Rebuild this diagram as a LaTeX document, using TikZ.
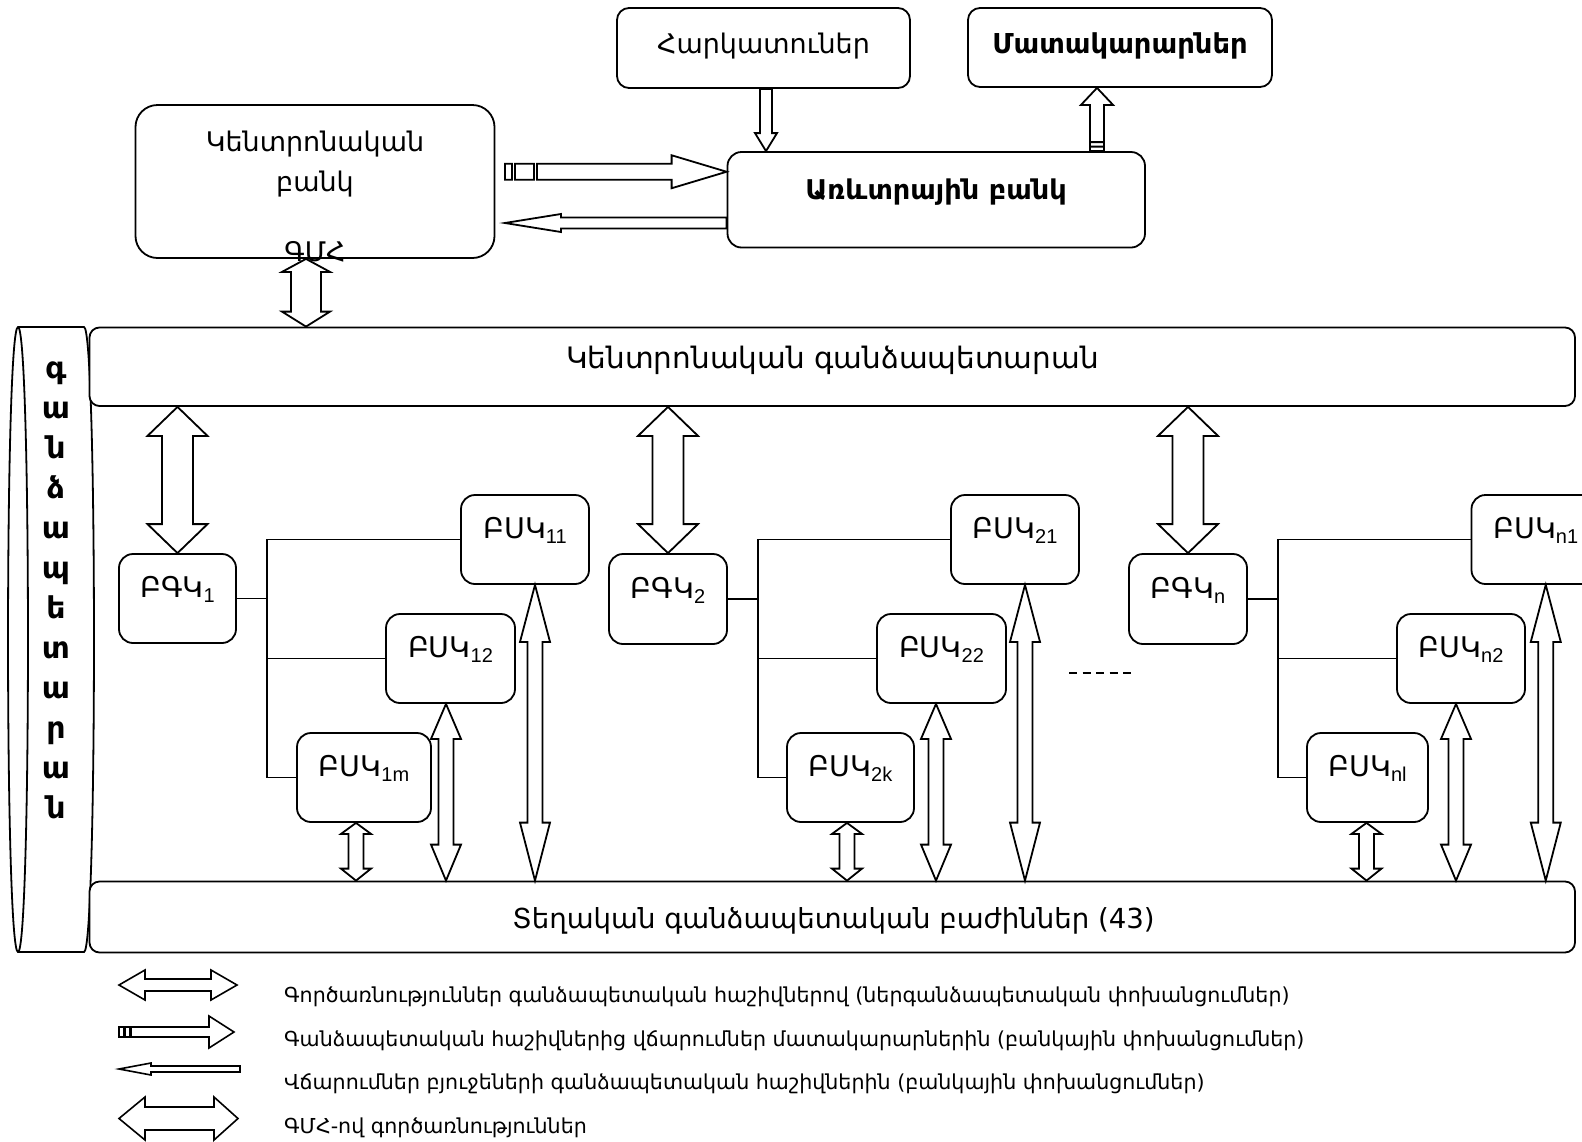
\documentclass[tikz,border=0pt]{standalone}
\usepackage{fontspec}
\setmainfont{DejaVu Sans}
\newfontfamily\latinsub{Liberation Sans}
\usetikzlibrary{calc}
\newcommand\ttl{\fontsize{27}{31}\selectfont}
\newcommand\ttlbig{\fontsize{29.5}{33}\selectfont}
\newcommand\lgd{\fontsize{20.6}{24}\selectfont}
\newcommand\lsub[1]{\raisebox{-5pt}{\latinsub\fontsize{20}{20}\selectfont #1}}
% vertical double arrow: #1 top tip, #2 bottom tip, #3 head half width, #4 shaft half width, #5 top head length, #6 bottom head length
\newcommand\vdar[6]{%
  \path[ar] let \p1=#1, \p2=#2 in
  (\x1,\y1) -- ({\x1+#3pt},{\y1-#5pt}) -- ({\x1+#4pt},{\y1-#5pt}) -- ({\x1+#4pt},{\y2+#6pt})
  -- ({\x1+#3pt},{\y2+#6pt}) -- (\x1,\y2) -- ({\x1-#3pt},{\y2+#6pt}) -- ({\x1-#4pt},{\y2+#6pt})
  -- ({\x1-#4pt},{\y1-#5pt}) -- ({\x1-#3pt},{\y1-#5pt}) -- cycle;}
\begin{document}
\begin{tikzpicture}[x=1pt,y=-1pt,
  box/.style={draw, line width=1.8pt, fill=white, rounded corners=14pt, inner sep=0pt},
  bl/.style={inner sep=0pt, font=\ttl, anchor=base},
  ar/.style={draw, line width=1.8pt, fill=white, line join=miter},
  bus/.style={draw, line width=1.8pt},
  vl/.style={inner sep=0pt, font=\fontsize{30}{34}\selectfont\bfseries, anchor=base},
  lg/.style={inner sep=0pt, font=\lgd, anchor=base west},
  lgar/.style={draw, line width=1.6pt, fill=white, line join=miter}]
\useasboundingbox (0,0) rectangle (1582,1141);
\clip (0,0) rectangle (1582,1141);
\fill[white] (0,0) rectangle (1582,1141);

% treasury cylinder (left)
\draw[line width=1.8pt, fill=white] (18,327) -- (84,327) .. controls (97.3,327) and (97.3,952) .. (84,952)
  -- (18,952) .. controls (4.7,952) and (4.7,327) .. (18,327) -- cycle;
\draw[line width=1.8pt] (18,327) .. controls (31.3,327) and (31.3,952) .. (18,952);
\foreach \l [count=\i from 0] in {գ,ա,ն,ձ,ա,պ,ե,տ,ա,ր,ա,ն}
  \node[vl] (v\i) at (56,{378+40*\i}) {\l};

% top boxes
\node[box, rounded corners=12pt, minimum width=293pt, minimum height=80pt] (tax) at (763.5,48) {};
\node[bl] (taxt) at (763.5,53) {Հարկատուներ};
\node[box, rounded corners=12pt, minimum width=304pt, minimum height=79pt] (sup) at (1120,47.5) {};
\node[bl, font=\fontsize{27.4}{31}\selectfont\bfseries] (supt) at (1120,53) {Մատակարարներ};
\node[box, rounded corners=22pt, minimum width=359pt, minimum height=153pt] (cb) at (315,181.5) {};
\node[bl] (cbt1) at (315,151.5) {Կենտրոնական};
\node[bl] (cbt2) at (315,191.5) {բանկ};
\node[box, minimum width=417.5pt, minimum height=95.5pt] (comb) at (936.25,199.75) {};
\node[bl, font=\fontsize{27.2}{31}\selectfont\bfseries] (combt) at (936,199) {Առևտրային բանկ};

% treasury bars
\node[box, rounded corners=10pt, minimum width=1485.5pt, minimum height=78.5pt] (tre) at (832.25,366.75) {};
\node[bl, font=\ttlbig] (tret) at (832.5,368.5) {Կենտրոնական գանձապետարան};
\node[box, rounded corners=10pt, minimum width=1485.5pt, minimum height=71pt] (loc) at (832.25,917) {};
\node[bl, font=\fontsize{27.6}{31}\selectfont] (loct) at (833.5,928) {Տեղական գանձապետական բաժիններ (43)};

% regional boxes
\node[box, minimum width=117pt, minimum height=89pt] (bgk1) at (177.5,598.5) {};
\node[box, minimum width=128pt, minimum height=89pt] (bsk11) at (525,539.5) {};
\node[box, minimum width=129pt, minimum height=89pt] (bsk12) at (450.5,658.5) {};
\node[box, minimum width=134pt, minimum height=89pt] (bsk1m) at (364,777.5) {};
\node[box, minimum width=118pt, minimum height=90pt] (bgk2) at (668,599) {};
\node[box, minimum width=128pt, minimum height=89pt] (bsk21) at (1015,539.5) {};
\node[box, minimum width=129pt, minimum height=89pt] (bsk22) at (941.5,658.5) {};
\node[box, minimum width=127pt, minimum height=89pt] (bsk2k) at (850.5,777.5) {};
\node[box, minimum width=118pt, minimum height=90pt] (bgkn) at (1188,599) {};
\node[box, minimum width=128.5pt, minimum height=89pt] (bskn1) at (1535.75,539.5) {};
\node[box, minimum width=128pt, minimum height=89pt] (bskn2) at (1461,658.5) {};
\node[box, minimum width=121pt, minimum height=89pt] (bsknl) at (1367.5,777.5) {};

\tikzset{bl/.append style={font=\fontsize{28.5}{32}\selectfont}}
\node[bl] (bgk1t) at ([yshift=1pt]bgk1.center) {ԲԳԿ\lsub{1}};
\node[bl] (bsk11t) at ([yshift=1.5pt]bsk11.center) {ԲՍԿ\lsub{11}};
\node[bl] (bsk12t) at ([yshift=1.5pt]bsk12.center) {ԲՍԿ\lsub{12}};
\node[bl] (bsk1mt) at ([yshift=1.5pt]bsk1m.center) {ԲՍԿ\lsub{1m}};
\node[bl] (bgk2t) at ([yshift=1pt]bgk2.center) {ԲԳԿ\lsub{2}};
\node[bl] (bsk21t) at ([yshift=1.5pt]bsk21.center) {ԲՍԿ\lsub{21}};
\node[bl] (bsk22t) at ([yshift=1.5pt]bsk22.center) {ԲՍԿ\lsub{22}};
\node[bl] (bsk2kt) at ([yshift=1.5pt]bsk2k.center) {ԲՍԿ\lsub{2k}};
\node[bl] (bgknt) at ([yshift=1pt]bgkn.center) {ԲԳԿ\lsub{n}};
\node[bl] (bskn1t) at ([yshift=1.5pt]bskn1.center) {ԲՍԿ\lsub{n1}};
\node[bl] (bskn2t) at ([yshift=1.5pt]bskn2.center) {ԲՍԿ\lsub{n2}};
\node[bl] (bsknlt) at ([yshift=1.5pt]bsknl.center) {ԲՍԿ\lsub{nl}};
\tikzset{bl/.append style={font=\ttl}}

% bus lines
\coordinate (busa) at (267,0);
\coordinate (busb) at (758,0);
\coordinate (busc) at (1278,0);
\draw[bus] (bsk11.west) -- (bsk11.west -| busa) -- (bsk1m.west -| busa) -- (bsk1m.west);
\draw[bus] (bsk12.west) -- (bsk12.west -| busa);
\draw[bus] (bgk1.east) -- (bgk1.east -| busa);
\draw[bus] (bsk21.west) -- (bsk21.west -| busb) -- (bsk2k.west -| busb) -- (bsk2k.west);
\draw[bus] (bsk22.west) -- (bsk22.west -| busb);
\draw[bus] (bgk2.east) -- (bgk2.east -| busb);
\draw[bus] (bskn1.west) -- (bskn1.west -| busc) -- (bsknl.west -| busc) -- (bsknl.west);
\draw[bus] (bskn2.west) -- (bskn2.west -| busc);
\draw[bus] (bgkn.east) -- (bgkn.east -| busc);

% dashes between groups
\draw[line width=1.8pt, dash pattern=on 8pt off 5.5pt] (1069,673) -- (1131,673);

% treasury <-> regional
\vdar{(bgk1.north |- tre.south)}{(bgk1.north)}{30}{15.5}{29}{29}
\vdar{(bgk2.north |- tre.south)}{(bgk2.north)}{30}{15.5}{29}{29}
\vdar{(bgkn.north |- tre.south)}{(bgkn.north)}{30}{15.5}{29}{29}
% unit <-> local
\vdar{([xshift=10pt]bsk11.south)}{([xshift=10pt]bsk11.south |- loc.north)}{15}{7.5}{57}{58}
\vdar{([xshift=10pt]bsk21.south)}{([xshift=10pt]bsk21.south |- loc.north)}{15}{7.5}{57}{58}
\vdar{([xshift=10pt]bskn1.south)}{([xshift=10pt]bskn1.south |- loc.north)}{15}{7.5}{57}{58}
\vdar{([xshift=-4.5pt]bsk12.south)}{([xshift=-4.5pt]bsk12.south |- loc.north)}{15}{7.5}{35}{36}
\vdar{([xshift=-5.5pt]bsk22.south)}{([xshift=-5.5pt]bsk22.south |- loc.north)}{15}{7.5}{35}{36}
\vdar{([xshift=-5pt]bskn2.south)}{([xshift=-5pt]bskn2.south |- loc.north)}{15}{7.5}{35}{36}
\vdar{([xshift=-8pt]bsk1m.south)}{([xshift=-8pt]bsk1m.south |- loc.north)}{15}{7.5}{11}{12}
\vdar{([xshift=-3.5pt]bsk2k.south)}{([xshift=-3.5pt]bsk2k.south |- loc.north)}{15}{7.5}{11}{12}
\vdar{([xshift=-1pt]bsknl.south)}{([xshift=-1pt]bsknl.south |- loc.north)}{15}{7.5}{11}{12}
% central bank <-> treasury (single treasury account)
\vdar{([xshift=-9pt]cb.south)}{([xshift=-9pt]cb.south |- tre.north)}{24}{15}{13}{15}
\node[bl] (gmh) at (315,261.5) {ԳՄՀ};

% taxpayers -> commercial bank
\path[ar] let \p1=([xshift=2.5pt]tax.south), \p2=([xshift=2.5pt]tax.south |- comb.north) in
  ({\x1-6pt},\y1) -- ({\x1+6pt},\y1) -- ({\x1+6pt},{\y2+18pt}) -- ({\x1+11pt},{\y2+18pt}) -- (\x2,\y2)
  -- ({\x1-11pt},{\y2+18pt}) -- ({\x1-6pt},{\y2+18pt}) -- cycle;
% commercial bank -> suppliers
\path[ar] let \p1=([xshift=-23pt]sup.south), \p2=([xshift=-23pt]sup.south |- comb.north) in
  (\x1,\y1) -- ({\x1+16pt},{\y1-17pt}) -- ({\x1+7pt},{\y1-17pt}) -- ({\x1+7pt},\y2) -- ({\x1-7pt},\y2)
  -- ({\x1-7pt},{\y1-17pt}) -- ({\x1-16pt},{\y1-17pt}) -- cycle
  ({\x1-7pt},{\y2+9pt}) -- ({\x1+7pt},{\y2+9pt})
  ({\x1-7pt},{\y2+4.5pt}) -- ({\x1+7pt},{\y2+4.5pt});
% central bank -> commercial bank (payments to suppliers)
\path[ar] let \p1=([yshift=28pt]comb.west), \p2=([xshift=9.5pt]cb.east) in
  (\x2,{\y1-8pt}) rectangle ({\x2+7pt},{\y1+8pt})
  ({\x2+10pt},{\y1-8pt}) rectangle ({\x2+29pt},{\y1+8pt})
  ({\x2+32pt},{\y1+8pt}) -- ({\x1-55pt},{\y1+8pt}) -- ({\x1-55pt},{\y1+16.5pt}) -- (\x1,\y1)
  -- ({\x1-55pt},{\y1-16.5pt}) -- ({\x1-55pt},{\y1-8pt}) -- ({\x2+32pt},{\y1-8pt}) -- cycle;
% commercial bank -> central bank (budget payments)
\path[ar] let \p1=([xshift=9.5pt,yshift=-23.25pt]cb.east |- comb.west), \p2=(comb.west) in
  (\x1,\y1) -- ({\x1+56pt},{\y1+9pt}) -- ({\x1+56pt},{\y1+5.5pt}) -- (\x2,{\y1+5.5pt})
  -- (\x2,{\y1-5.5pt}) -- ({\x1+56pt},{\y1-5.5pt}) -- ({\x1+56pt},{\y1-9pt}) -- cycle;

% legend
\draw[lgar] (119,985) -- (145,970) -- (145,979) -- (211,979) -- (211,970) -- (237,985) -- (211,1000)
  -- (211,991) -- (145,991) -- (145,1000) -- cycle;
\draw[lgar] (119,1027) rectangle (123.5,1037);
\draw[lgar] (125,1027) rectangle (129.5,1037);
\draw[lgar] (131,1027) -- (209,1027) -- (209,1016) -- (234,1032) -- (209,1048) -- (209,1037) -- (131,1037) -- cycle;
\draw[lgar] (119,1069) -- (151,1063) -- (151,1066) -- (240,1066) -- (240,1072) -- (151,1072) -- (151,1075) -- cycle;
\draw[lgar] (119,1118.5) -- (145,1097) -- (145,1107) -- (214,1107) -- (214,1097) -- (238,1118.5) -- (214,1140)
  -- (214,1130) -- (145,1130) -- (145,1140) -- cycle;
\node[lg] (lg1) at (284,1002.5) {Գործառնություններ գանձապետական հաշիվներով (ներգանձապետական փոխանցումներ)};
\node[lg] (lg2) at (284,1046) {Գանձապետական հաշիվներից վճարումներ մատակարարներին (բանկային փոխանցումներ)};
\node[lg] (lg3) at (284,1089.5) {Վճարումներ բյուջեների գանձապետական հաշիվներին (բանկային փոխանցումներ)};
\node[lg] (lg4) at (284,1133.5) {ԳՄՀ-ով գործառնություններ};
\end{tikzpicture}
\end{document}
